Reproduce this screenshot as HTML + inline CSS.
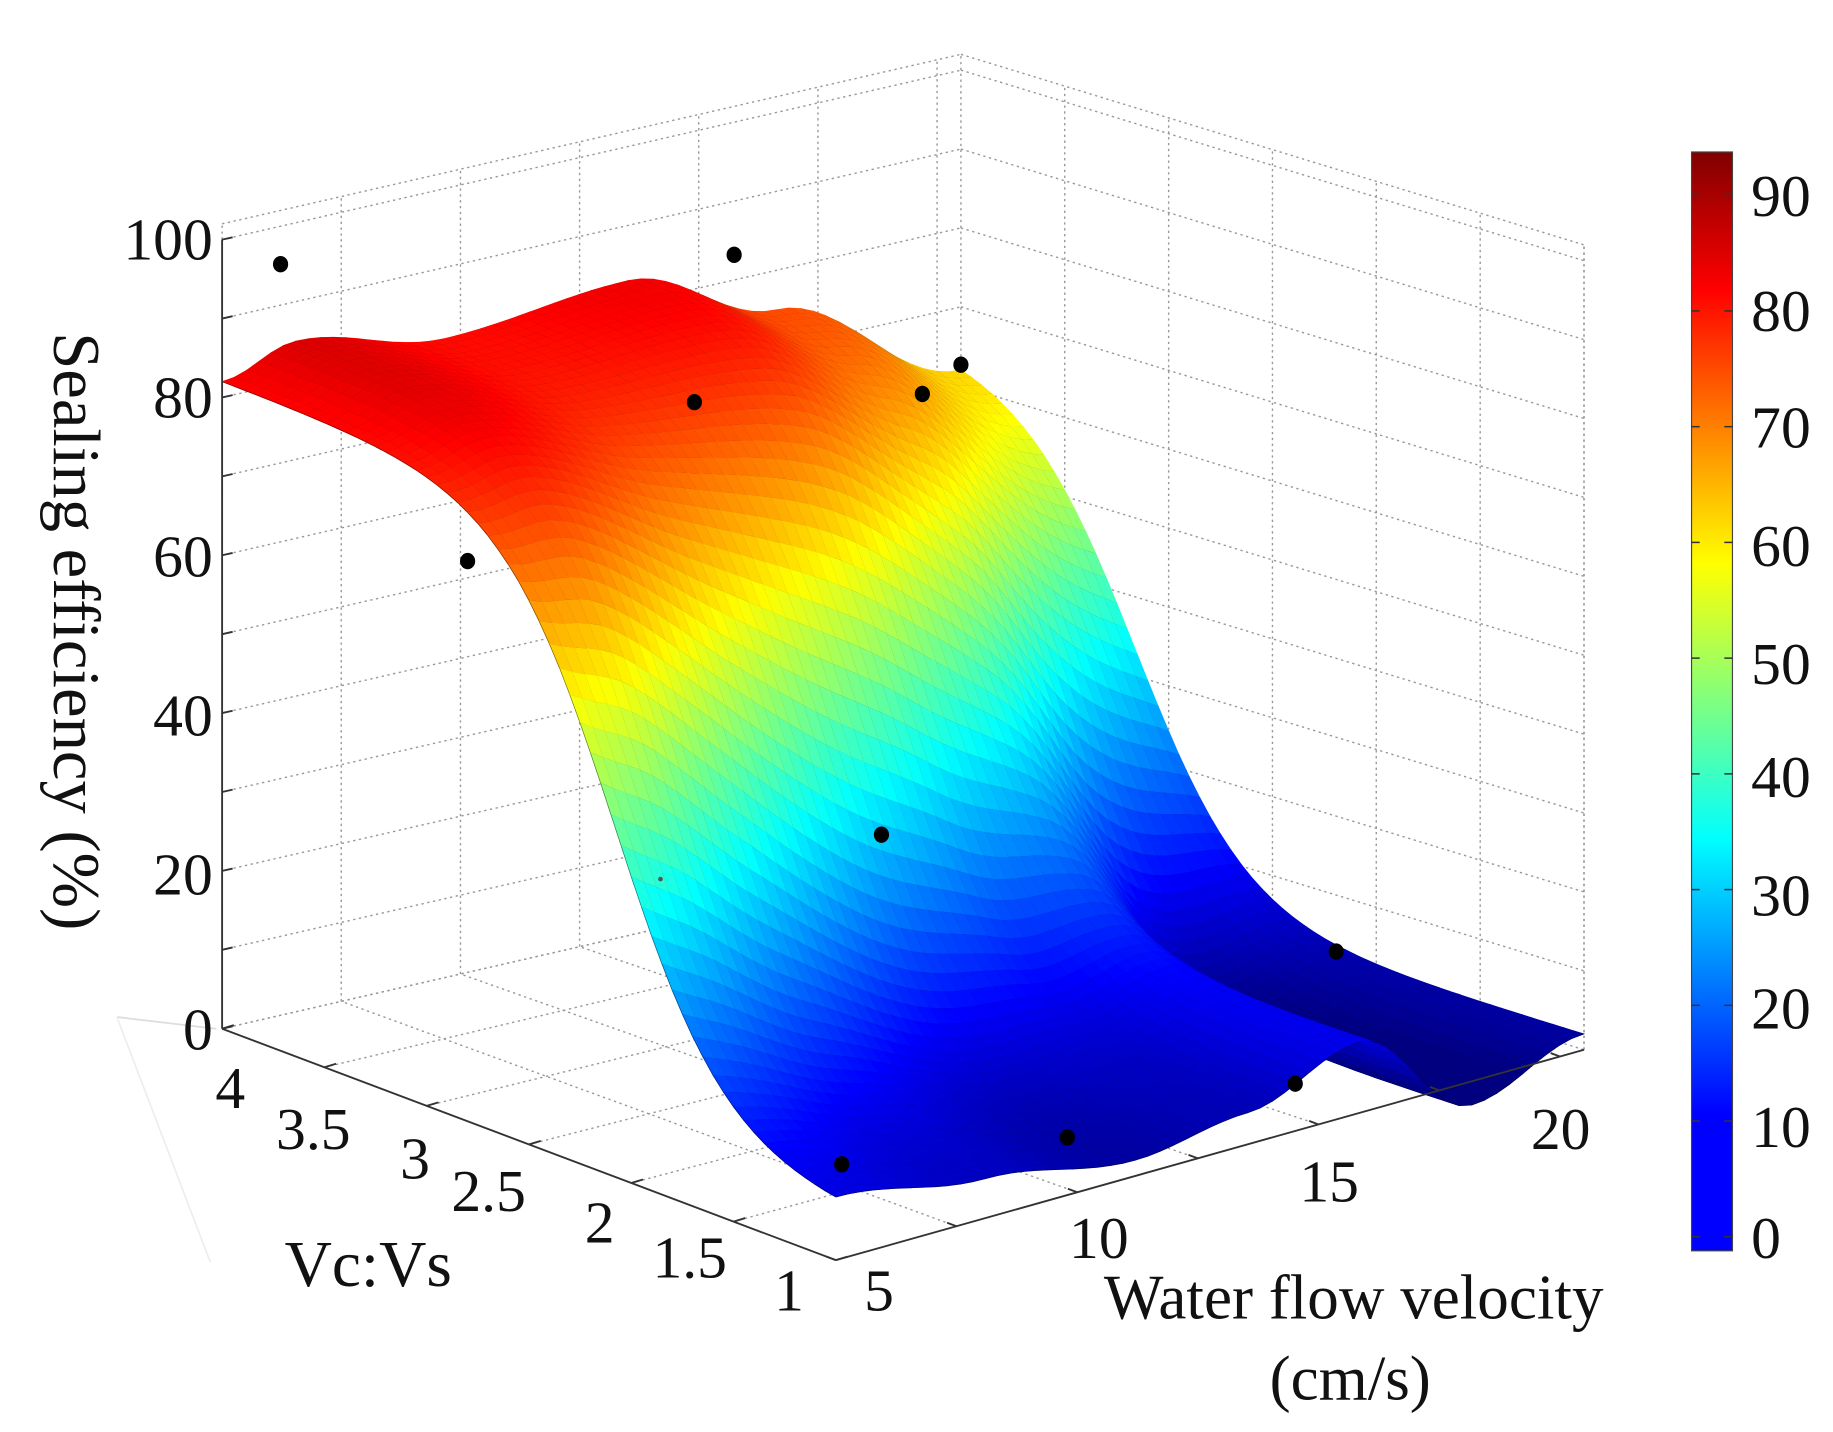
<!DOCTYPE html>
<html><head><meta charset="utf-8"><style>
html,body{margin:0;padding:0;background:#fff;}
svg{display:block;}
text{font-family:"Liberation Serif",serif;fill:#111;}
</style></head><body>
<svg id="s" width="1833" height="1432" viewBox="0 0 1568 1225" preserveAspectRatio="none" xmlns="http://www.w3.org/2000/svg">
<defs>
<linearGradient id="jet" x1="0" y1="1" x2="0" y2="0">
<stop offset="0" stop-color="#0000ff"/><stop offset="0.11" stop-color="#0000ff"/>
<stop offset="0.125" stop-color="#0000ff"/><stop offset="0.375" stop-color="#00ffff"/>
<stop offset="0.625" stop-color="#ffff00"/><stop offset="0.875" stop-color="#ff0000"/>
<stop offset="1" stop-color="#800000"/>
</linearGradient>
</defs>
<g id="grid"></g>
<g id="surf"></g>
<g id="dots" fill="#000"></g>
<g id="axes"></g>
<rect x="1447" y="130" width="35" height="940" fill="url(#jet)" stroke="#444" stroke-width="1"/>
<g id="cb"></g>
<g font-size="51">
<text x="182" y="222" text-anchor="end">100</text>
<text x="182" y="357" text-anchor="end">80</text>
<text x="182" y="493" text-anchor="end">60</text>
<text x="182" y="629" text-anchor="end">40</text>
<text x="182" y="765" text-anchor="end">20</text>
<text x="182" y="898" text-anchor="end">0</text>
<text transform="translate(46,540) rotate(90)" text-anchor="middle" font-size="57">Sealing efficiency (%)</text>
<text x="197" y="948" text-anchor="middle">4</text>
<text x="268" y="983" text-anchor="middle">3.5</text>
<text x="355" y="1008" text-anchor="middle">3</text>
<text x="418" y="1036" text-anchor="middle">2.5</text>
<text x="513" y="1063" text-anchor="middle">2</text>
<text x="590" y="1093" text-anchor="middle">1.5</text>
<text x="675" y="1121" text-anchor="middle">1</text>
<text x="315" y="1100" text-anchor="middle" font-size="56">Vc:Vs</text>
<text x="752" y="1121" text-anchor="middle">5</text>
<text x="940" y="1076" text-anchor="middle">10</text>
<text x="1137" y="1028" text-anchor="middle">15</text>
<text x="1335" y="983" text-anchor="middle">20</text>
<text x="1158" y="1128" text-anchor="middle" font-size="54">Water flow velocity</text>
<text x="1155" y="1197" text-anchor="middle" font-size="54">(cm/s)</text>
<text x="1498" y="185">90</text><text x="1498" y="283">80</text><text x="1498" y="383">70</text>
<text x="1498" y="484">60</text><text x="1498" y="585">50</text><text x="1498" y="682">40</text>
<text x="1498" y="783">30</text><text x="1498" y="880">20</text><text x="1498" y="981">10</text>
<text x="1498" y="1076">0</text>
</g>
</svg>
<script>
(function(){
var NS="http://www.w3.org/2000/svg";
var F=[715,1078],R=[1355,898],L=[190,880],B=[822,735],ZS=6.75;
function P(u,w,z){var x=F[0]*(1-u)*(1-w)+R[0]*u*(1-w)+L[0]*(1-u)*w+B[0]*u*w;
var y=F[1]*(1-u)*(1-w)+R[1]*u*(1-w)+L[1]*(1-u)*w+B[1]*u*w;return [x,y-z*ZS];}
function el(p,tag,a){var e=document.createElementNS(NS,tag);for(var k in a)e.setAttribute(k,a[k]);p.appendChild(e);return e;}
function line(g,a,b,st){el(g,"line",Object.assign({x1:a[0].toFixed(1),y1:a[1].toFixed(1),x2:b[0].toFixed(1),y2:b[1].toFixed(1)},st));}
var grid=document.getElementById("grid");
var dot={stroke:"#999","stroke-width":1.2,"stroke-dasharray":"2,3"};
var ZT=102;
for(var z=0;z<=100;z+=10){line(grid,P(0,1,z),P(1,1,z),dot);line(grid,P(1,1,z),P(1,0,z),dot);}
for(var v=5;v<=20.5;v+=2.5){var u=(v-5)/15.5;line(grid,P(u,1,0),P(u,1,ZT),dot);line(grid,P(u,0,0),P(u,1,0),dot);}
for(var c=1;c<=4;c+=0.5){var w=(c-1)/3;line(grid,P(1,w,0),P(1,w,ZT),dot);line(grid,P(0,w,0),P(1,w,0),dot);}
line(grid,P(0,1,ZT),P(1,1,ZT),dot);line(grid,P(1,1,ZT),P(1,0,ZT),dot);line(grid,P(1,0,0),P(1,0,ZT),dot);
var ax=document.getElementById("axes");var sol={stroke:"#333","stroke-width":1.6};
line(ax,P(0,1,0),P(0,1,100),sol);line(ax,P(0,1,0),P(0,0,0),sol);line(ax,P(0,0,0),P(1,0,0),sol);
for(var z=0;z<=100;z+=10){var a=P(0,1,z);line(ax,a,[a[0]+9,a[1]-2],sol);}
for(var c=1;c<=4;c+=0.5){var a=P(0,(c-1)/3,0);line(ax,a,[a[0]+10,a[1]-3],sol);}
for(var v=5;v<=20;v+=2.5){var a=P((v-5)/15.5,0,0);line(ax,a,[a[0]-8,a[1]-3],sol);}
line(ax,[100,870],[185,880],{stroke:"#ddd","stroke-width":1.5});line(ax,[100,870],[180,1080],{stroke:"#eee","stroke-width":1.5});
function ci(xs,ys,t){for(var i=0;i<xs.length-1;i++){if(t<=xs[i+1]){var f=(t-xs[i])/(xs[i+1]-xs[i]);f=(1-Math.cos(Math.PI*f))/2;return ys[i]+(ys[i+1]-ys[i])*f;}}return ys[ys.length-1];}
function sg(x){return 1/(1+Math.exp(-x));}
function Z(u,w){var A=ci([0,.2,.4,.55,.7,.85,1],[8,5,2,4,9,-3,2],u);
var Bv=ci([0,.1,.3,.55,.75,1],[82,85,81,83,75,62],u);
var c=0.36+0.36*u,s=0.09;var s0=sg((0-c)/s),s1=sg((1-c)/s);
var f=(sg((w-c)/s)-s0)/(s1-s0);return A+(Bv-A)*f;}
function jet(t){t=Math.max(0,Math.min(1,t));function cl(x){return Math.max(0,Math.min(1,x));}
var r=cl(1.5-Math.abs(4*t-3)),g=cl(1.5-Math.abs(4*t-2)),b=cl(1.5-Math.abs(4*t-1));
return "rgb("+Math.round(r*255)+","+Math.round(g*255)+","+Math.round(b*255)+")";}
var N=60,cells=[];
for(var i=0;i<N;i++)for(var j=0;j<N;j++){var u0=i/N,u1=(i+1)/N,w0=j/N,w1=(j+1)/N;
var z00=Z(u0,w0),z10=Z(u1,w0),z11=Z(u1,w1),z01=Z(u0,w1);
cells.push({d:u0+w0,p:[P(u0,w0,z00),P(u1,w0,z10),P(u1,w1,z11),P(u0,w1,z01)],z:(z00+z10+z11+z01)/4});}
cells.sort(function(a,b){return b.d-a.d;});
var sf=document.getElementById("surf");
cells.forEach(function(c){var col=jet((c.z+1.2)/94.9);
el(sf,"polygon",{points:c.p.map(function(q){return q[0].toFixed(1)+","+q[1].toFixed(1);}).join(" "),fill:col,stroke:col,"stroke-width":0.6});
el(sf,"polyline",{points:[c.p[3],c.p[0],c.p[1]].map(function(q){return q[0].toFixed(1)+","+q[1].toFixed(1);}).join(" "),fill:"none",stroke:"#000","stroke-opacity":0.5,"stroke-width":0.6});});
var D=[[240,226],[628,218],[822,312],[594,344],[789,337],[400,480],[754,714],[1143,814],[1108,927],[913,973],[720,996]];
var dg=document.getElementById("dots");D.forEach(function(d){el(dg,"ellipse",{cx:d[0],cy:d[1],rx:6.5,ry:7});});
el(dg,"circle",{cx:565,cy:752,r:2,fill:"#555"});
var cb=document.getElementById("cb");
for(var v=0;v<=90;v+=10){var y=1058-v*9.9;line(cb,[1447,y],[1454,y],{stroke:"#333","stroke-width":1.3});line(cb,[1475,y],[1482,y],{stroke:"#333","stroke-width":1.3});}
})();
</script>
</body></html>
